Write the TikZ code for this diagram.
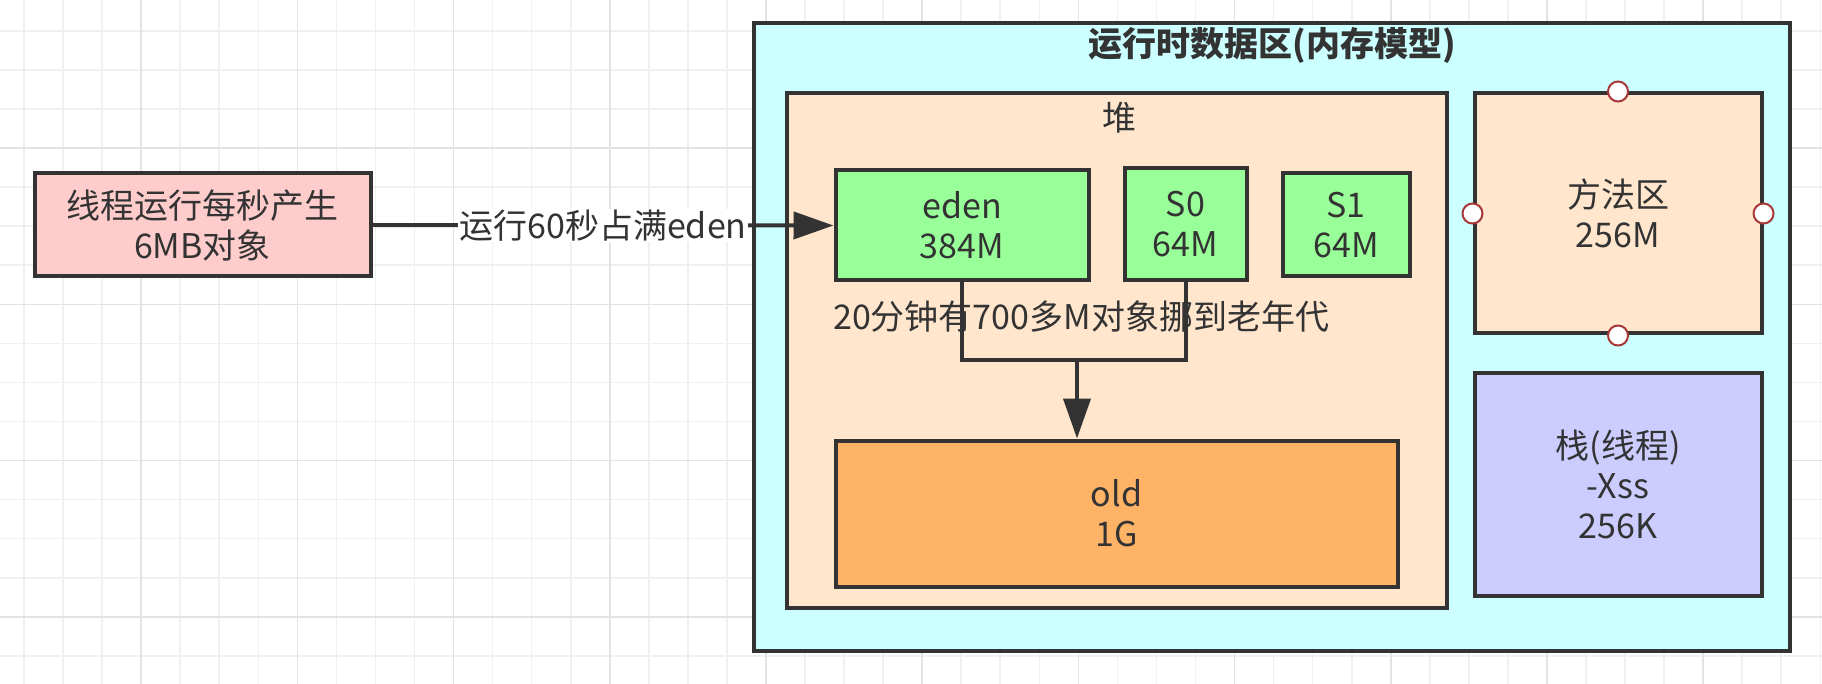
\documentclass[tikz,border=0pt]{standalone}
\usepackage{fontspec}
\setmainfont{Noto Sans CJK SC}
\usetikzlibrary{arrows.meta}
\definecolor{linec}{HTML}{333333}
\definecolor{textc}{HTML}{333333}
\definecolor{pinkc}{HTML}{FFCCCC}
\definecolor{cyanc}{HTML}{CCFFFF}
\definecolor{peachc}{HTML}{FFE6CC}
\definecolor{greenc}{HTML}{99FF99}
\definecolor{orangec}{HTML}{FFB366}
\definecolor{lilacc}{HTML}{CCCCFF}
\definecolor{portc}{HTML}{A83838}
\definecolor{gridmin}{HTML}{F0F0F0}
\definecolor{gridmaj}{HTML}{E3E3E3}

\begin{document}
\begin{tikzpicture}[x=1pt, y=-1pt,
    box/.style={draw=linec, line width=4pt, text=textc, align=center, inner sep=0pt,
                font=\fontsize{34}{40}\selectfont},
    txt/.style={text=textc, inner sep=0pt, font=\fontsize{34}{40}\selectfont},
    link/.style={draw=linec, line width=4pt},
    headarrow/.style={-{Triangle[length=40pt,width=27pt]}},
    port/.style={circle, draw=portc, fill=white, line width=2pt, minimum size=20pt, inner sep=0pt}]
    % Page and grid
    \useasboundingbox (0,0) rectangle (1822,684);
    \fill [white] (0,0) rectangle (1822,684);
    \foreach \i in {0,...,46} \draw [gridmin, line width=1.6pt] ({24+39.05*\i},0) -- ++(0,684);
    \foreach \j in {0,...,16} \draw [gridmin, line width=1.6pt] (0,{31+39.05*\j}) -- ++(1822,0);
    \foreach \i in {0,...,10} \draw [gridmaj, line width=1.6pt] ({141.15+156.2*\i},0) -- ++(0,684);
    \foreach \j in {0,...,3} \draw [gridmaj, line width=1.6pt] (0,{148.15+156.2*\j}) -- ++(1822,0);
    % Thread box
    \node [box, fill=pinkc, minimum width=336pt, minimum height=103pt] (thread) at (202.5,225) {线程运行每秒产生\\6MB对象};
    % Runtime data area
    \node [box, fill=cyanc, minimum width=1036pt, minimum height=628pt] (runtime) at (1272,337) {};
    \node [txt, font=\fontsize{34}{40}\selectfont\bfseries] (title) at (1272,45) {运行时数据区(内存模型)};
    % Heap with its generations
    \node [box, fill=peachc, minimum width=660pt, minimum height=514pt] (heap) at (1116.5,350.5) {};
    \node [txt] (heaplabel) at (1119,118) {堆};
    \node [box, fill=greenc, minimum width=253pt, minimum height=110pt] (eden) at (962,225.5) {eden\\384M};
    \node [box, fill=greenc, minimum width=122pt, minimum height=112pt] (s0) at (1185.5,224.5) {S0\\64M};
    \node [box, fill=greenc, minimum width=127pt, minimum height=103pt] (s1) at (1346,225) {S1\\64M};
    \node [box, fill=orangec, minimum width=562pt, minimum height=146pt] (old) at (1116.5,513.5) {old\\1G};
    % Method area and stack
    \node [box, fill=peachc, minimum width=287pt, minimum height=240pt] (method) at (1618,213.5) {方法区\\256M};
    \node [box, fill=lilacc, minimum width=287pt, minimum height=223pt] (stack) at (1618,484) {栈(线程)\\-Xss\\256K};
    \foreach \side in {north,south,east,west} \node [port] (method-\side) at (method.\side) {};
    % Connectors
    \draw [link, headarrow] (thread.east) -- (eden.west)
        node [midway, fill=white, txt, inner sep=1pt] (fill60) {运行60秒占满eden};
    \coordinate (jn) at (1077,360);
    \draw [link] (eden.south) |- (jn) -| (s0.south);
    \draw [link, headarrow] (jn) -- (jn |- old.north);
    \node [txt, anchor=west] (promote) at (833,317) {20分钟有700多M对象挪到老年代};
\end{tikzpicture}
\end{document}
